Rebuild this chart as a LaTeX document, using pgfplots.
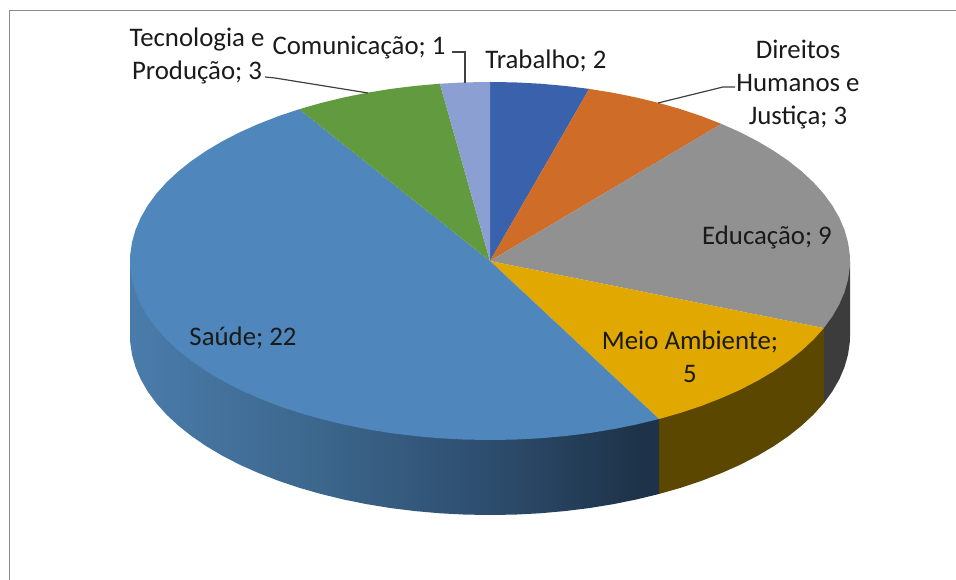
\documentclass[border=0pt]{standalone}
\usepackage{fontspec}
\setmainfont{Carlito}
\usepackage{pgfplots}
\pgfplotsset{compat=1.18}
\definecolor{cSaude}{HTML}{4F86BC}
\definecolor{cTec}{HTML}{629A3F}
\definecolor{cCom}{HTML}{8C9FD2}
\definecolor{cTrab}{HTML}{3A62AC}
\definecolor{cDir}{HTML}{CF6C27}
\definecolor{cEdu}{HTML}{919191}
\definecolor{cMeio}{HTML}{E0A800}
\definecolor{cMeioS}{HTML}{5C4700}
\definecolor{cEduS}{HTML}{3C3C3C}
\definecolor{cLine}{HTML}{404040}
\definecolor{cFrame}{HTML}{8C8C8C}
\definecolor{cTxt}{HTML}{1A1A1A}
\definecolor{sA}{HTML}{4A7CAB}
\definecolor{sB}{HTML}{3C668C}
\definecolor{sC}{HTML}{2D4D6E}
\definecolor{sD}{HTML}{1E3349}
\pgfdeclarehorizontalshading{saudeside}{100bp}{
  color(0bp)=(sA); color(25bp)=(sA); color(43bp)=(sB);
  color(59bp)=(sC); color(73bp)=(sD); color(100bp)=(sD)}
\tikzset{lbl/.style={font=\fontsize{26.8}{33}\selectfont, text=cTxt, align=center, inner sep=0pt}}
\begin{document}
\begin{tikzpicture}
\begin{axis}[
  hide axis, scale only axis, width=956pt, height=580pt,
  xmin=-490, xmax=466, ymin=-319, ymax=261,
  clip=true,
  every axis plot/.append style={forget plot}
]
\path[use as bounding box] (axis cs:-490,-319) rectangle (axis cs:466,261);
% frame
\addplot[cFrame, line width=1.3pt] coordinates {(-480.5,-319)(-480.5,250.5)(466,250.5)};
% side walls (lower rims, depth 75; the upper edge is covered by the top face)
\addplot[draw=none, fill=cEduS] coordinates {(360,0)(360,-75)(359.8,-81.2)(358,-93.7)(354.5,-106.1)(349.3,-118.3)(342.4,-130.3)(333.8,-142.1)(333.8,-67.1)} -- cycle;
\addplot[draw=none, fill=cMeioS] coordinates {(333.8,-142.1)(323.6,-153.5)(311.8,-164.5)(298.5,-175.1)(283.7,-185.2)(267.5,-194.8)(250.1,-203.8)(231.4,-212.1)(211.6,-219.8)(190.8,-226.8)(169,-233)(169,-158)(333.8,-67.1)} -- cycle;
\addplot[draw=none, shading=saudeside, shade] coordinates {(169,-233)(146.4,-238.5)(123.1,-243.2)(99.2,-247.1)(74.8,-250.1)(50.1,-252.3)(25.1,-253.6)(0,-254)(-25.1,-253.6)(-50.1,-252.3)(-74.8,-250.1)(-99.2,-247.1)(-123.1,-243.2)(-146.4,-238.5)(-169,-233)(-190.8,-226.8)(-211.6,-219.8)(-231.4,-212.1)(-250.1,-203.8)(-267.5,-194.8)(-283.7,-185.2)(-298.5,-175.1)(-311.8,-164.5)(-323.6,-153.5)(-333.8,-142.1)(-342.4,-130.3)(-349.3,-118.3)(-354.5,-106.1)(-358,-93.7)(-359.8,-81.2)(-360,-75)(-360,0)(169,-158)} -- cycle;
% top face: Trabalho 2, Direitos 3, Educacao 9, Meio Ambiente 5, Saude 22, Tecnologia 3, Comunicacao 1 (total 45)
\addplot[draw=none, fill=cTrab] coordinates {(0,0)(0,179)(25.1,178.6)(50.1,177.3)(74.8,175.1)(99.2,172.1)} -- cycle;
\addplot[draw=none, fill=cDir] coordinates {(0,0)(99.2,172.1)(123.1,168.2)(146.4,163.5)(169,158)(190.8,151.8)(211.6,144.8)(231.4,137.1)} -- cycle;
\addplot[draw=none, fill=cEdu] coordinates {(0,0)(231.4,137.1)(250.1,128.8)(267.5,119.8)(283.7,110.2)(298.5,100.1)(311.8,89.5)(323.6,78.5)(333.8,67.1)(342.4,55.3)(349.3,43.3)(354.5,31.1)(358,18.7)(359.8,6.2)(359.8,-6.2)(358,-18.7)(354.5,-31.1)(349.3,-43.3)(342.4,-55.3)(333.8,-67.1)} -- cycle;
\addplot[draw=none, fill=cMeio] coordinates {(0,0)(333.8,-67.1)(323.6,-78.5)(311.8,-89.5)(298.5,-100.1)(283.7,-110.2)(267.5,-119.8)(250.1,-128.8)(231.4,-137.1)(211.6,-144.8)(190.8,-151.8)(169,-158)} -- cycle;
\addplot[draw=none, fill=cSaude] coordinates {(0,0)(169,-158)(146.4,-163.5)(123.1,-168.2)(99.2,-172.1)(74.8,-175.1)(50.1,-177.3)(25.1,-178.6)(0,-179)(-25.1,-178.6)(-50.1,-177.3)(-74.8,-175.1)(-99.2,-172.1)(-123.1,-168.2)(-146.4,-163.5)(-169,-158)(-190.8,-151.8)(-211.6,-144.8)(-231.4,-137.1)(-250.1,-128.8)(-267.5,-119.8)(-283.7,-110.2)(-298.5,-100.1)(-311.8,-89.5)(-323.6,-78.5)(-333.8,-67.1)(-342.4,-55.3)(-349.3,-43.3)(-354.5,-31.1)(-358,-18.7)(-359.8,-6.2)(-359.8,6.2)(-358,18.7)(-354.5,31.1)(-349.3,43.3)(-342.4,55.3)(-333.8,67.1)(-323.6,78.5)(-311.8,89.5)(-298.5,100.1)(-283.7,110.2)(-267.5,119.8)(-250.1,128.8)(-231.4,137.1)(-211.6,144.8)(-190.8,151.8)} -- cycle;
\addplot[draw=none, fill=cTec] coordinates {(0,0)(-190.8,151.8)(-169,158)(-146.4,163.5)(-123.1,168.2)(-99.2,172.1)(-74.8,175.1)(-50.1,177.3)} -- cycle;
\addplot[draw=none, fill=cCom] coordinates {(0,0)(-50.1,177.3)(-25.1,178.6)(0,179)} -- cycle;
% leader lines
\addplot[cLine, line width=1.2pt] coordinates {(-225,184)(-215,183)(-122,168)};
\addplot[cLine, line width=1.2pt] coordinates {(-38,209)(-25,209)(-25,178)};
\addplot[cLine, line width=1.2pt] coordinates {(168,158)(233,174)(245,174)};
% labels
\node[lbl] at (axis cs:-293,205.5) {Tecnologia e\\Produção; 3};
\node[lbl] at (axis cs:-131,213) {Comunicação; 1};
\node[lbl] at (axis cs:56,200) {Trabalho; 2};
\node[lbl] at (axis cs:308,176.5) {Direitos\\Humanos e\\Justiça; 3};
\node[lbl] at (axis cs:277,24) {Educação; 9};
\node[lbl] at (axis cs:200,-96) {Meio Ambiente;\\5};
\node[lbl] at (axis cs:-247,-77) {Saúde; 22};
\end{axis}
\end{tikzpicture}
\end{document}
